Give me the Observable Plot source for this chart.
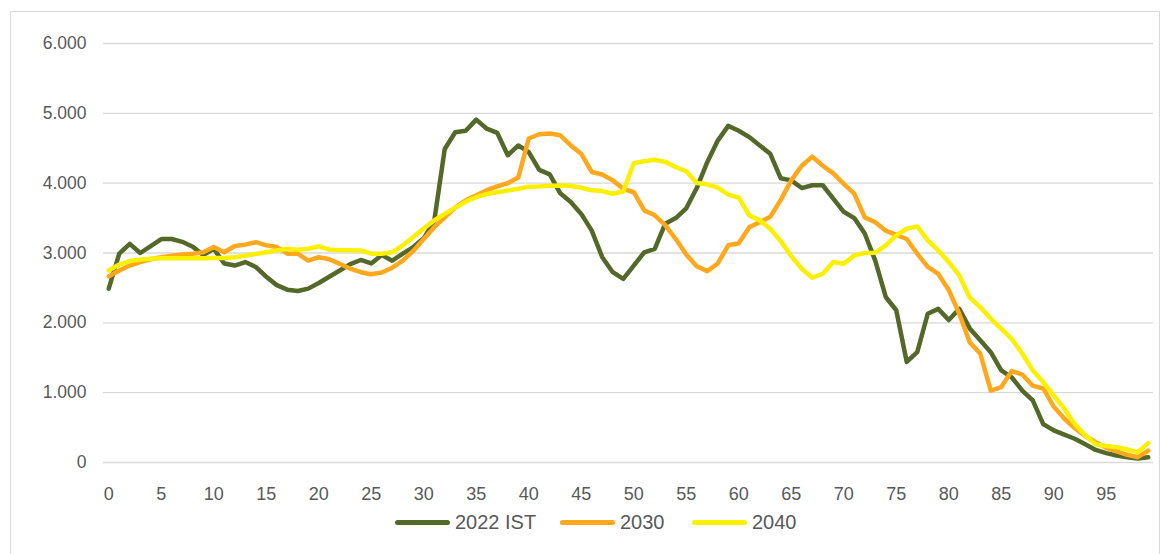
<!DOCTYPE html>
<html>
<head>
<meta charset="utf-8">
<script src="https://cdn.jsdelivr.net/npm/d3@7"></script>
<script src="https://cdn.jsdelivr.net/npm/@observablehq/plot@0.6"></script>
<style>
  html, body { margin: 0; padding: 0; background: #fff; }
  #wrap { position: relative; width: 1165px; height: 554px; overflow: hidden; font-family: "Liberation Sans", Arial, sans-serif; }
  #frame { position: absolute; left: 10px; top: 11px; width: 1150px; height: 545px; border: 1px solid #d9d9d9; box-sizing: border-box; }
  #chart { position: absolute; left: 0; top: 0; }
  #legend { position: absolute; left: 0; top: 509px; width: 1165px; height: 26px; font-size: 20px; color: #595959; }
  .item { position: absolute; top: 0; display: flex; align-items: center; height: 26px; }
  .sw { width: 55px; height: 5px; border-radius: 3px; margin-right: 5px; }
</style>
</head>
<body>
<div id="wrap">
  <div id="frame"></div>
  <div id="chart"></div>
  <div id="legend"></div>
</div>
<script>
const ages = [0,1,2,3,4,5,6,7,8,9,10,11,12,13,14,15,16,17,18,19,20,21,22,23,24,25,26,27,28,29,30,31,32,33,34,35,36,37,38,39,40,41,42,43,44,45,46,47,48,49,50,51,52,53,54,55,56,57,58,59,60,61,62,63,64,65,66,67,68,69,70,71,72,73,74,75,76,77,78,79,80,81,82,83,84,85,86,87,88,89,90,91,92,93,94,95,96,97,98,99];

const ist2022 = [
  2490, 2990, 3130, 3000, 3100, 3200, 3200, 3160, 3090, 2970,
  3060, 2850, 2820, 2870, 2800, 2660, 2540, 2475, 2455, 2490,
  2570, 2660, 2750, 2840, 2900, 2850, 2970, 2890, 2990, 3085,
  3210, 3460, 4490, 4730, 4750, 4910, 4780, 4720, 4400, 4540,
  4445, 4190, 4125, 3855, 3730, 3560, 3320, 2940, 2725, 2630,
  2820, 3010, 3060, 3420, 3500, 3640, 3930, 4300, 4610, 4820,
  4750, 4660, 4540, 4420, 4070, 4040, 3930, 3970, 3970, 3780,
  3590, 3500, 3280, 2890, 2370, 2180, 1440, 1580, 2130, 2200,
  2040, 2200, 1920, 1750, 1580, 1320, 1220, 1030, 890, 550,
  460, 400, 340, 260, 180, 135, 100, 75, 57, 76
];

const prog2030 = [
  2665, 2750, 2820, 2870, 2910, 2940, 2960, 2980, 2990, 3010,
  3085, 3010, 3100, 3120, 3155, 3110, 3085, 2990, 2990, 2890,
  2940, 2910, 2845, 2775, 2725, 2695, 2720, 2790, 2890, 3030,
  3200, 3370, 3510, 3650, 3755, 3825, 3900, 3955, 4000, 4080,
  4640, 4700, 4710, 4685, 4540, 4420, 4160, 4125, 4040, 3920,
  3870, 3610, 3540, 3400, 3200, 2980, 2810, 2740, 2850, 3110,
  3140, 3370, 3440, 3520, 3760, 4040, 4250, 4380, 4250, 4140,
  3990, 3850, 3510, 3440, 3320, 3260, 3200, 2990, 2800, 2700,
  2470, 2130, 1720, 1560, 1030, 1080, 1310, 1260, 1100, 1060,
  800, 630, 490, 380, 290, 210, 160, 110, 76, 170
];

const prog2040 = [
  2750, 2835, 2885, 2905, 2918, 2925, 2925, 2925, 2925, 2925,
  2930, 2930, 2940, 2960, 2985, 3010, 3035, 3060, 3047, 3061,
  3095, 3050, 3040, 3040, 3037, 2990, 2990, 3010, 3110, 3228,
  3350, 3467, 3560, 3650, 3735, 3800, 3845, 3870, 3895, 3920,
  3950, 3954, 3964, 3968, 3964, 3935, 3897, 3887, 3849, 3880,
  4285, 4315, 4336, 4305, 4231, 4169, 4002, 3983, 3935, 3835,
  3792, 3539, 3467, 3347, 3170, 2955, 2775, 2646, 2703, 2870,
  2846, 2966, 3000, 3004, 3109, 3252, 3347, 3381, 3180, 3037,
  2870, 2680, 2360, 2225, 2060, 1915, 1770, 1560, 1320, 1150,
  960, 770, 550, 390, 260, 235, 220, 186, 148, 277
];

const seriesNames = ["2022 IST", "2030", "2040"];
const seriesColors = ["#536829", "#FFA81C", "#FAF000"];
const yTicks = [0, 1000, 2000, 3000, 4000, 5000, 6000];
const xTicks = [0, 5, 10, 15, 20, 25, 30, 35, 40, 45, 50, 55, 60, 65, 70, 75, 80, 85, 90, 95];

const de = d3.formatLocale({decimal: ",", thousands: ".", grouping: [3], currency: ["", " €"]});
const fmt = de.format(",.0f");

const allSeries = [ist2022, prog2030, prog2040];
const rows = [];
allSeries.forEach((vals, si) => {
  vals.forEach((v, i) => rows.push({age: ages[i], value: v, series: seriesNames[si]}));
});

const font = "Liberation Sans, Arial, sans-serif";
const chart = Plot.plot({
  width: 1165,
  height: 505,
  marginLeft: 103,
  marginRight: 12,
  marginTop: 43,
  marginBottom: 43,
  style: {fontFamily: font, fontSize: "17.5px", color: "#595959", background: "transparent"},
  x: {type: "linear", domain: [-0.5, 99.5], label: null},
  y: {domain: [0, 6000], label: null},
  marks: [
    Plot.ruleY(yTicks, {stroke: "#d9d9d9", strokeWidth: 1.3}),
    Plot.axisY({ticks: yTicks, tickSize: 0, tickPadding: 17, tickFormat: fmt, fill: "#595959", fontSize: 17.5, label: null}),
    Plot.axisX({ticks: xTicks, tickSize: 0, tickPadding: 25, tickFormat: d => String(d), fill: "#595959", fontSize: 18, label: null}),
    ...seriesNames.map((name, si) => Plot.lineY(rows.filter(r => r.series === name), {
      x: "age", y: "value", stroke: seriesColors[si], strokeWidth: 4.5,
      strokeLinejoin: "round", strokeLinecap: "round"
    }))
  ]
});
document.getElementById("chart").appendChild(chart);

const legendPos = [395, 560, 692];
const legend = document.getElementById("legend");
seriesNames.forEach((name, i) => {
  const item = document.createElement("div");
  item.className = "item";
  item.style.left = legendPos[i] + "px";
  const sw = document.createElement("div");
  sw.className = "sw";
  sw.style.background = seriesColors[i];
  const t = document.createElement("span");
  t.textContent = name;
  item.appendChild(sw);
  item.appendChild(t);
  legend.appendChild(item);
});
</script>
</body>
</html>
